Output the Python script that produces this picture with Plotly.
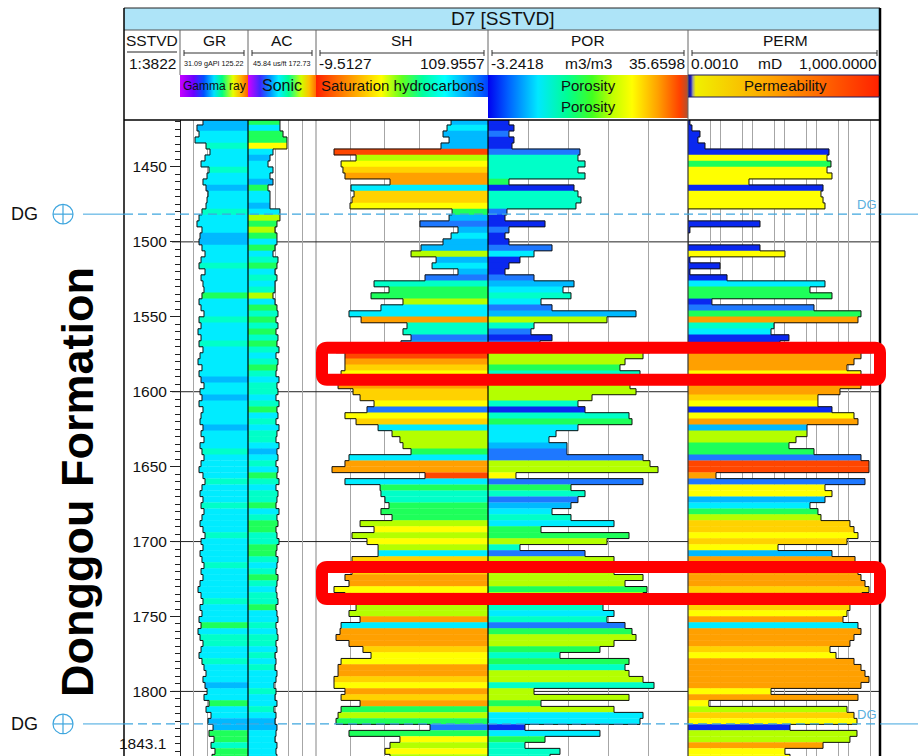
import math
import plotly.graph_objects as go

W, H = 918, 756
FONT = "Liberation Sans, Arial, sans-serif"

# ---------------- data ----------------
DEPTH = list(range(1420, 1845, 4))   # band centres (m, SSTVD)
BAND_H = 4

GR = [62.9, 54.6, 57.4, 51.9, 67.1, 72.6, 65.7, 60.2, 71.2, 68.5,
      62.9, 67.1, 69.9, 68.5, 67.1, 61.5, 57.4, 54.6, 61.5, 58.8,
      57.4, 61.5, 65.7, 60.2, 57.4, 65.7, 60.2, 62.9, 64.3, 61.5,
      57.4, 60.2, 64.3, 57.4, 60.2, 56.0, 60.2, 57.4, 62.9, 58.8,
      56.0, 61.5, 57.4, 60.2, 64.3, 58.8, 61.5, 57.4, 62.9, 60.2,
      58.8, 62.9, 60.2, 64.3, 58.8, 61.5, 64.3, 60.2, 57.4, 62.9,
      65.7, 61.5, 58.8, 62.9, 60.2, 64.3, 61.5, 58.8, 62.9, 65.7,
      60.2, 62.9, 58.8, 61.5, 64.3, 60.2, 62.9, 58.8, 56.0, 60.2,
      62.9, 58.8, 61.5, 57.4, 60.2, 56.0, 58.8, 62.9, 60.2, 57.4,
      61.5, 64.3, 67.1, 62.9, 65.7, 68.5, 64.3, 71.2, 67.1, 74.0,
      69.9, 76.8, 71.2, 78.2, 74.0, 79.5, 75.4]
GR_CODE = [2, 2, 3, 3, 4, 3, 3, 3, 4, 3,
           3, 2, 3, 3, 3, 4, 3, 3, 3, 2,
           2, 3, 3, 3, 4, 3, 3, 3, 3, 5,
           3, 3, 3, 4, 3, 3, 3, 4, 3, 3,
           3, 3, 3, 2, 3, 3, 2, 3, 3, 3,
           3, 2, 3, 3, 3, 4, 3, 3, 3, 3,
           4, 3, 3, 3, 4, 3, 3, 3, 3, 4,
           3, 3, 3, 3, 4, 3, 3, 3, 3, 3,
           4, 3, 3, 3, 5, 3, 4, 4, 3, 3,
           4, 3, 3, 3, 2, 3, 3, 5, 3, 3,
           2, 2, 5, 5, 4, 5, 5]

AC = [105.5, 105.5, 111.2, 118.6, 118.6, 92.5, 86.9, 83.2, 92.5, 86.9,
      92.5, 83.2, 86.9, 86.9, 86.9, 105.5, 105.5, 99.9, 96.2, 99.9,
      99.9, 96.2, 92.5, 101.8, 99.9, 96.2, 99.9, 96.2, 96.2, 92.5,
      96.2, 99.9, 101.8, 98.1, 101.8, 98.1, 101.8, 99.9, 103.7, 98.1,
      101.8, 99.9, 98.1, 103.7, 99.9, 101.8, 98.1, 103.7, 99.9, 101.8,
      98.1, 103.7, 99.9, 98.1, 103.7, 99.9, 101.8, 98.1, 101.8, 99.9,
      103.7, 98.1, 101.8, 99.9, 98.1, 103.7, 99.9, 101.8, 98.1, 99.9,
      103.7, 99.9, 98.1, 101.8, 99.9, 98.1, 101.8, 99.9, 98.1, 99.9,
      101.8, 98.1, 99.9, 101.8, 98.1, 99.9, 101.8, 98.1, 99.9, 96.2,
      98.1, 96.2, 99.9, 98.1, 94.4, 98.1, 96.2, 99.9, 94.4, 98.1,
      96.2, 99.9, 98.1, 96.2, 99.9, 98.1, 99.9]
AC_CODE = [5, 3, 5, 5, 7, 3, 2, 3, 3, 3,
           2, 5, 3, 3, 2, 3, 6, 5, 6, 5,
           3, 5, 3, 4, 5, 3, 4, 3, 4, 6,
           3, 5, 4, 5, 4, 5, 4, 5, 4, 3,
           4, 5, 4, 3, 4, 4, 3, 4, 5, 3,
           4, 3, 4, 4, 3, 2, 3, 4, 3, 5,
           4, 3, 4, 4, 5, 3, 4, 5, 5, 4,
           4, 5, 5, 4, 3, 4, 5, 4, 3, 4,
           4, 5, 3, 3, 4, 3, 4, 4, 3, 4,
           3, 4, 3, 3, 3, 4, 3, 3, 4, 3,
           2, 2, 3, 3, 3, 3, 3]

SH = [84.3, 81.5, 78.7, 82.9, 77.3, 3.0, 18.3, 7.9, 9.2, 10.6,
      41.9, 14.8, 16.9, 15.5, 14.1, 85.0, 82.9, 62.7, 89.1, 84.3,
      78.7, 63.4, 56.5, 73.9, 71.1, 89.1, 66.2, 30.8, 41.2, 28.7,
      50.9, 35.6, 13.4, 21.8, 53.7, 50.9, 56.5, 49.5, 4.4, 10.6,
      10.6, 10.6, 7.9, 5.8, 5.8, 16.2, 21.1, 30.8, 25.9, 10.6,
      18.3, 33.6, 43.3, 48.8, 50.9, 56.5, 13.4, 10.6, 1.6, 66.2,
      10.6, 35.0, 35.6, 38.4, 41.2, 35.6, 43.3, 21.1, 30.8, 15.5,
      25.9, 33.6, 33.6, 15.5, 10.6, 15.5, 10.6, 13.4, 3.0, 10.6,
      21.1, 18.3, 13.4, 21.1, 7.9, 7.2, 4.4, 13.4, 23.1, 28.7,
      7.9, 5.8, 5.8, 3.0, 3.0, 10.6, 7.9, 21.1, 7.9, 5.8,
      4.4, 69.7, 13.4, 48.8, 41.9, 38.4, 41.9]
SH_CODE = [2, 3, 2, 2, 2, 10, 6, 7, 8, 9,
           9, 3, 8, 8, 7, 5, 2, 1, 2, 3,
           2, 2, 6, 2, 3, 2, 1, 4, 5, 5,
           6, 3, 3, 9, 4, 4, 1, 2, 3, 10,
           9, 8, 7, 8, 9, 8, 8, 7, 1, 7,
           8, 3, 6, 6, 6, 5, 3, 9, 9, 10,
           3, 5, 4, 4, 5, 5, 5, 6, 7, 6,
           7, 6, 3, 8, 8, 8, 9, 9, 7, 8,
           8, 6, 6, 9, 3, 9, 9, 9, 8, 7,
           7, 9, 9, 8, 7, 9, 8, 9, 5, 6,
           5, 1, 5, 7, 6, 7, 6]

POR = [0.84, 1.81, 0.84, 1.81, 1.43, 14.65, 14.26, 15.63, 14.26, 15.63,
       0.84, 13.49, 14.26, 14.85, 13.87, 0.45, 0.07, 7.85, 0.84, 0.07,
       0.84, 9.21, 5.71, 2.98, 0.84, 0.07, 5.71, 13.49, 11.35, 12.90,
       7.07, 9.21, 25.55, 19.91, 5.71, 5.12, 9.21, 6.87, 28.27, 26.91,
       23.41, 22.43, 26.33, 23.41, 24.38, 25.55, 16.99, 14.26, 15.63, 24.19,
       24.77, 14.26, 9.99, 8.62, 12.12, 12.12, 26.91, 28.27, 29.83, 2.20,
       26.91, 12.90, 15.63, 14.26, 12.90, 9.21, 12.90, 21.27, 7.07, 24.19,
       19.91, 2.98, 15.63, 21.27, 21.27, 21.27, 26.91, 23.41, 27.69, 26.91,
       12.90, 19.13, 21.27, 19.91, 23.41, 24.77, 25.55, 21.27, 18.54, 10.76,
       24.19, 23.41, 24.19, 26.91, 29.05, 5.71, 24.19, 7.07, 21.27, 26.91,
       26.33, 3.95, 18.54, 7.85, 3.95, 10.76, 8.82]
POR_CODE = [0, 0, 1, 0, 0, 1, 4, 4, 4, 4,
            5, 0, 4, 4, 4, 1, 0, 0, 1, 0,
            0, 1, 3, 0, 0, 0, 1, 2, 3, 4,
            3, 1, 2, 6, 4, 1, 0, 1, 1, 6,
            6, 5, 4, 5, 6, 6, 6, 4, 0, 4,
            5, 3, 3, 3, 2, 1, 1, 6, 6, 7,
            1, 5, 4, 1, 2, 3, 4, 3, 5, 5,
            6, 4, 1, 6, 6, 6, 6, 6, 5, 6,
            4, 4, 3, 4, 1, 5, 6, 6, 5, 4,
            5, 4, 6, 6, 4, 6, 6, 5, 6, 3,
            3, 0, 3, 5, 4, 4, 4]

PERM = [0.00115, 0.00133, 0.00237, 0.00205, 0.0034, 25.5, 22.1, 29.4, 22.1, 31.6,
        0.0805, 16.6, 14.3, 16.6, 19.1, 0.001, 0.001, 0.178, 0.00115, 0.001,
        0.001, 0.178, 1.07, 0.00115, 0.01, 0.00115, 0.0166, 19.1, 6.49, 31.6,
        0.0056, 8.66, 255, 205, 0.487, 0.393, 1.43, 0.75, 562, 255,
        154, 93.1, 255, 166, 255, 56.2, 11.5, 11.5, 31.6, 154,
        205, 5.24, 5.24, 2.37, 1.43, 8.66, 255, 453, 453, 0.0075,
        340, 19.1, 31.6, 19.1, 6.49, 11.5, 14.3, 115, 154, 205,
        93.1, 0.65, 31.6, 166, 205, 205, 255, 340, 453, 274,
        166, 115, 93.1, 69.8, 205, 255, 154, 115, 27.4, 42.2,
        154, 255, 340, 453, 255, 0.393, 205, 0.0045, 93.1, 154,
        191, 1.54, 191, 115, 16.6, 1.07, 1.54]
PERM_CODE = [0, 0, 0, 0, 0, 0, 7, 5, 7, 7,
             7, 0, 7, 7, 7, 0, 0, 0, 0, 0,
             0, 0, 7, 0, 0, 0, 0, 3, 5, 5,
             0, 1, 5, 9, 4, 3, 0, 0, 3, 9,
             9, 9, 7, 9, 9, 9, 8, 7, 0, 7,
             9, 2, 6, 6, 5, 5, 1, 10, 10, 9,
             1, 7, 7, 2, 3, 5, 6, 8, 8, 7,
             8, 7, 2, 9, 9, 9, 9, 9, 8, 9,
             9, 8, 7, 9, 3, 9, 9, 9, 8, 7,
             9, 9, 9, 9, 9, 7, 9, 7, 6, 8,
             7, 0, 6, 6, 9, 7, 7]

# scales of the tracks (from the header)
GR_RANGE = (31.09, 125.22)
AC_RANGE = (45.84, 172.73)
SH_RANGE = (-9.5127, 109.9557)
POR_RANGE = (-3.2418, 35.6598)
PERM_RANGE = (0.001, 1000.0)
PERM_GRID = [1e-3, 5e-3, 1e-2, 5e-2, 1e-1, 5e-1, 1, 5, 10, 50, 100, 500, 1000]

DEPTH_TOP, DEPTH_BOT = 1418.67, 1843.1
DEPTH_LABELS = [1450, 1500, 1550, 1600, 1650, 1700, 1750, 1800]
GRID_DEPTHS = [1500, 1600, 1700, 1800]
DG_TOPS = [1481.5, 1821.7]
HIGHLIGHTS = [(1570.7, 1592.0), (1717.0, 1738.3)]

PALETTE = ['#0a28f0', '#1e78ff', '#00b9ff', '#00ecff', '#00ffc8', '#1eff5a',
           '#b4ff00', '#ffff00', '#ffd200', '#ffa000', '#ff4600']
CSCALE = [[i / 10, c] for i, c in enumerate(PALETTE)]


def px(x):
    return x / W


def py(y):
    return 1 - y / H


fig = go.Figure()


def add_track(axis, base, length, codes, vals):
    fig.add_trace(go.Bar(orientation='h', y=DEPTH, x=length, base=base, width=BAND_H + 0.3,
                         xaxis=axis, yaxis='y',
                         marker=dict(color=codes, colorscale=CSCALE, cmin=0, cmax=10,
                                     line=dict(width=0)),
                         hoverinfo='skip', showlegend=False))
    xs, ys = [], []
    for d, v in zip(DEPTH, vals):
        xs += [v, v]
        ys += [d - BAND_H / 2, d + BAND_H / 2]
    fig.add_trace(go.Scatter(x=xs, y=ys, mode='lines', xaxis=axis, yaxis='y',
                             line=dict(color='#111111', width=1),
                             hoverinfo='skip', showlegend=False))


add_track('x', GR, [GR_RANGE[1] - v for v in GR], GR_CODE, GR)
add_track('x2', [AC_RANGE[0]] * len(AC), [v - AC_RANGE[0] for v in AC], AC_CODE, AC)
add_track('x3', SH, [SH_RANGE[1] - v for v in SH], SH_CODE, SH)
add_track('x4', [POR_RANGE[0]] * len(POR), [v - POR_RANGE[0] for v in POR], POR_CODE, POR)
add_track('x5', [PERM_RANGE[0]] * len(PERM), [v - PERM_RANGE[0] for v in PERM], PERM_CODE, PERM)

# ---------------- legend gradients (pixel overlay axes) ----------------
GR_LEG = [[0, '#c800ff'], [0.2, '#6a00ff'], [0.35, '#0050ff'], [0.5, '#00e0ff'],
          [0.62, '#00ff80'], [0.78, '#e8ff00'], [0.9, '#ffb000'], [1, '#ff6000']]
AC_LEG = [[0, '#d400ff'], [0.18, '#3c28ff'], [0.32, '#0090ff'], [0.45, '#00f0ff'],
          [0.6, '#00ff90'], [0.78, '#d0ff00'], [0.9, '#ffc000'], [1, '#ff7000']]
SH_LEG = [[0, '#ff2000'], [0.12, '#ff6a00'], [0.25, '#ffb400'], [0.38, '#ffff00'],
          [0.5, '#60ff20'], [0.62, '#00ffa0'], [0.75, '#00ffff'], [0.88, '#00a0ff'],
          [1, '#0040ff']]
POR_LEG = [[0, '#0000f0'], [0.1, '#0060ff'], [0.25, '#00e8ff'], [0.4, '#00ff90'],
           [0.52, '#40ff20'], [0.62, '#c0ff00'], [0.72, '#ffff00'], [0.85, '#ffa000'],
           [0.96, '#ff4000'], [1, '#b05030']]
PERM_LEG = [[0, '#101080'], [0.015, '#2020c0'], [0.025, '#a0a0a0'], [0.04, '#f0f000'],
            [0.45, '#ffa000'], [1, '#ff2000']]


def grad_rect(x0, x1, y0, y1, cs):
    fig.add_trace(go.Scatter(x=[x0, x1, x1, x0, x0], y=[y0, y0, y1, y1, y0],
                             mode='lines', line=dict(width=0, color='rgba(0,0,0,0)'),
                             fill='toself',
                             fillgradient=dict(type='horizontal', colorscale=cs),
                             xaxis='x6', yaxis='y6', hoverinfo='skip', showlegend=False))


grad_rect(180, 248, 75, 97, GR_LEG)
grad_rect(248, 316, 75, 97, AC_LEG)
grad_rect(316, 488, 75, 97, SH_LEG)
grad_rect(488, 688, 75, 97, POR_LEG)
grad_rect(488, 688, 97, 118, POR_LEG)
grad_rect(688, 880, 75, 97, PERM_LEG)

# ---------------- shapes ----------------
shapes = []


def pline(x0, y0, x1, y1, color='#000', width=1, dash=None, layer='above'):
    shapes.append(dict(type='line', xref='paper', yref='paper', x0=px(x0), y0=py(y0),
                       x1=px(x1), y1=py(y1), layer=layer,
                       line=dict(color=color, width=width, dash=dash)))


# title bar
shapes.append(dict(type='rect', xref='paper', yref='paper', x0=px(124), x1=px(880),
                   y0=py(30), y1=py(8), fillcolor='#aee4f8', line=dict(width=0), layer='below'))
pline(124, 8, 880, 8, '#222', 1)
pline(124, 30, 880, 30, '#555', 1)
pline(124, 120, 880, 120, '#000', 1.5)
pline(124, 8, 124, 756, '#000', 1.5)
pline(880, 8, 880, 756, '#000', 2.5)
for xs in [180, 248, 316, 488, 688]:
    pline(xs, 30, xs, 75, '#666', 1)
pline(688, 75, 688, 120, '#666', 1)
pline(127, 52, 177, 52, '#222', 1)
# scale bars
for a, b in [(184, 244), (252, 312), (320, 484), (492, 684), (692, 877)]:
    pline(a, 53, b, 53, '#333', 1)
    pline(a, 50, a, 56, '#333', 1)
    pline(b, 50, b, 56, '#333', 1)
# PERM legend frame
pline(688, 75, 880, 75, '#1a1a60', 1)
pline(688, 97, 880, 97, '#1a1a60', 1)

# track separators in the log area
pline(248, 120, 248, 756, '#000', 1.2)
pline(488, 120, 488, 756, '#000', 1.2)
pline(688, 120, 688, 756, '#333', 1.2)
pline(316, 120, 316, 756, '#999', 1.2, layer='below')

# 100 m grid lines
for d in GRID_DEPTHS:
    shapes.append(dict(type='line', xref='paper', yref='y', x0=px(172), x1=px(880), y0=d, y1=d,
                       line=dict(color='#222', width=1), layer='below'))

# DG formation tops
DG_BLUE = '#3fa6de'
for d in DG_TOPS:
    shapes.append(dict(type='line', xref='paper', yref='y', x0=px(83), x1=px(124), y0=d, y1=d,
                       line=dict(color=DG_BLUE, width=1)))
    shapes.append(dict(type='line', xref='paper', yref='y', x0=px(124), x1=px(880), y0=d, y1=d,
                       line=dict(color=DG_BLUE, width=1.2, dash='9px,5px')))
    shapes.append(dict(type='line', xref='paper', yref='y', x0=px(880), x1=px(918), y0=d, y1=d,
                       line=dict(color=DG_BLUE, width=1)))
    shapes.append(dict(type='circle', xref='paper', yref='y', x0=px(53), x1=px(73),
                       y0=d - 6.5, y1=d + 6.5, line=dict(color=DG_BLUE, width=1.2)))
    shapes.append(dict(type='line', xref='paper', yref='y', x0=px(53), x1=px(73), y0=d, y1=d,
                       line=dict(color=DG_BLUE, width=1.2)))
    shapes.append(dict(type='line', xref='paper', yref='y', x0=px(63), x1=px(63),
                       y0=d - 6.5, y1=d + 6.5, line=dict(color=DG_BLUE, width=1.2)))

# highlighted intervals (rounded red frames)
RX, RY = px(5), 3.3   # corner radius: paper-x units, metres
for a, b in HIGHLIGHTS:
    x0, x1 = px(322), px(880)
    path = (f"M {x0 + RX},{a} L {x1 - RX},{a} Q {x1},{a} {x1},{a + RY} "
            f"L {x1},{b - RY} Q {x1},{b} {x1 - RX},{b} L {x0 + RX},{b} "
            f"Q {x0},{b} {x0},{b - RY} L {x0},{a + RY} Q {x0},{a} {x0 + RX},{a} Z")
    shapes.append(dict(type='path', xref='paper', yref='y', path=path,
                       line=dict(color='#ff0000', width=12), fillcolor='rgba(0,0,0,0)'))

# ---------------- annotations ----------------
ann = []


def txt(x, y, s, size=15.5, anchor='center', color='#111', **kw):
    ann.append(dict(x=px(x), y=py(y), xref='paper', yref='paper',
                    text=s, showarrow=False, xanchor=anchor, yanchor='middle',
                    font=dict(size=size, color=color, family=FONT), **kw))


txt(502, 19, 'D7 [SSTVD]', 19)
for x, s in [(152, 'SSTVD'), (214, 'GR'), (282, 'AC'), (402, 'SH'), (588, 'POR'), (785, 'PERM')]:
    txt(x, 41, s, 15.5)
txt(152, 63, '1:3822', 15.5)
txt(214, 63, '31.09 gAPI 125.22', 7.2)
txt(282, 63, '45.84 us/ft 172.73', 7.2)
txt(317, 63, '-9.5127', 15.5, 'left')
txt(487, 63, '109.9557', 15.5, 'right')
txt(489, 63, '-3.2418', 15.5, 'left')
txt(588, 63, 'm3/m3', 15.5)
txt(687, 63, '35.6598', 15.5, 'right')
txt(689, 63, '0.0010', 15.5, 'left')
txt(770, 63, 'mD', 15.5)
txt(879, 63, '1,000.0000', 15.5, 'right')
txt(214, 86, 'Gamma ray', 12)
txt(282, 86, 'Sonic', 16)
txt(402, 86, 'Saturation hydrocarbons', 15)
txt(588, 86, 'Porosity', 15)
txt(588, 107, 'Porosity', 15)
txt(785, 86, 'Permeability', 15)

ann.append(dict(x=px(168), y=DEPTH_BOT, xref='paper', yref='y', text='1843.1', showarrow=False,
                xanchor='right', yanchor='bottom', yshift=2,
                font=dict(size=15.5, color='#111', family=FONT)))
for d in DG_TOPS:
    ann.append(dict(x=px(24), y=d, xref='paper', yref='y', text='DG', showarrow=False,
                    xanchor='center', yanchor='middle',
                    font=dict(size=18, color='#111', family=FONT)))
    ann.append(dict(x=px(879), y=d, xref='paper', yref='y', text='DG', showarrow=False,
                    xanchor='right', yanchor='bottom', yshift=0,
                    font=dict(size=13, color='#5ab0e0', family=FONT)))

ann.append(dict(x=px(77), y=py(482), xref='paper', yref='paper', text='<b>Donggou Formation</b>',
                showarrow=False, textangle=-90, xanchor='center', yanchor='middle',
                font=dict(size=45, color='#000', family=FONT)))

# ---------------- axes ----------------
GRID = '#a6a6a6'


def track_axis(lo, hi, x0, x1, log=False):
    d = dict(domain=[px(x0), px(x1)], anchor='y', showticklabels=False, ticks='',
             showgrid=True, gridcolor=GRID, gridwidth=1.3, zeroline=False, showline=False,
             fixedrange=True)
    if log:
        d.update(type='log', range=[math.log10(lo), math.log10(hi)],
                 tickmode='array', tickvals=PERM_GRID)
    else:
        d.update(range=[lo, hi], tick0=lo, dtick=(hi - lo) / 5)
    return d


fig.update_layout(
    width=W, height=H, margin=dict(l=0, r=0, t=0, b=0), autosize=False,
    paper_bgcolor='white', plot_bgcolor='rgba(0,0,0,0)', barmode='overlay',
    showlegend=False, font=dict(family=FONT),
    xaxis=track_axis(*GR_RANGE, 180, 248),
    xaxis2=track_axis(*AC_RANGE, 248, 316),
    xaxis3=track_axis(*SH_RANGE, 316, 488),
    xaxis4=track_axis(*POR_RANGE, 488, 688),
    xaxis5=track_axis(*PERM_RANGE, 688, 880, log=True),
    xaxis6=dict(domain=[0, 1], range=[0, W], visible=False, anchor='y6', fixedrange=True),
    yaxis6=dict(domain=[0, 1], range=[H, 0], visible=False, anchor='x6', fixedrange=True),
    yaxis=dict(domain=[0, py(120)], range=[DEPTH_BOT, DEPTH_TOP], anchor='free',
               position=px(180), side='left', tickmode='array', tickvals=DEPTH_LABELS,
               ticks='outside', ticklen=10, tickwidth=1, tickcolor='#222',
               tickfont=dict(size=15.5, color='#111', family=FONT),
               minor=dict(tickmode='linear', tick0=0, dtick=5, ticks='outside', ticklen=5,
                          tickcolor='#222', showgrid=False),
               showgrid=False, zeroline=False, showline=True, linecolor='#222', linewidth=1,
               fixedrange=True),
    shapes=shapes, annotations=ann,
)

fig.write_html('out.html')
